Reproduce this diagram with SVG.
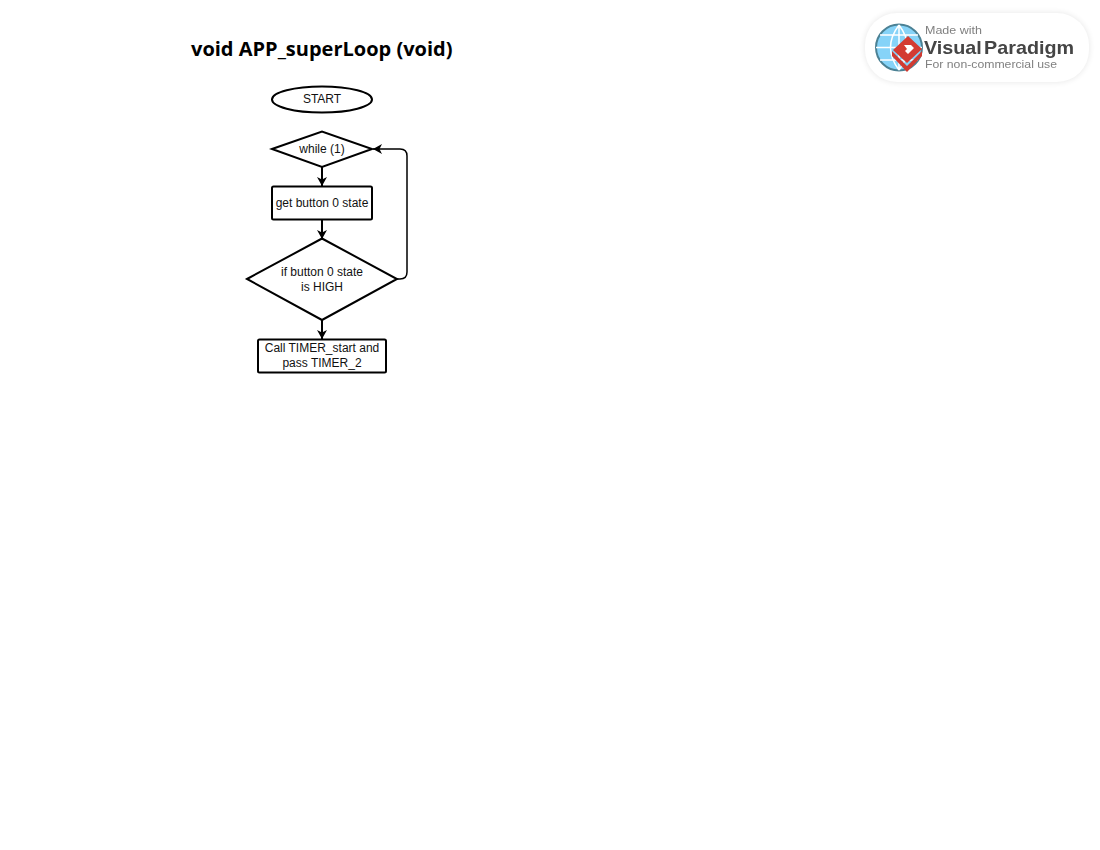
<svg xmlns="http://www.w3.org/2000/svg" width="1100" height="850" viewBox="0 0 1100 850">
<style>
.s{fill:#fff;stroke:#000;stroke-width:2}
.c{fill:none;stroke:#000;stroke-width:2}
.r{fill:none;stroke:#000;stroke-width:1.500}
.t{font-family:"Liberation Sans",Arial,sans-serif;font-size:12px;fill:#111;text-anchor:middle}
.wm{font-family:"Liberation Sans",Arial,sans-serif}
</style>
<defs>
<marker id="a" markerUnits="userSpaceOnUse" markerWidth="11" markerHeight="11" refX="9" refY="5" orient="auto"><path d="M0 0L9 5L0 10L2.500 5Z" fill="#000"/></marker>
<filter id="sh" x="-10%" y="-25%" width="120%" height="150%"><feGaussianBlur stdDeviation="3"/></filter>
<filter id="b" x="-5%" y="-5%" width="110%" height="110%"><feGaussianBlur stdDeviation=".45"/></filter>
</defs>
<rect width="1100" height="850" fill="#fff"/>
<text id="title" x="191" y="56" font-family="'Open Sans',sans-serif" font-weight="700" font-size="20" fill="#000">void APP_superLoop (void)</text>
<g id="connectors">
<path class="c" d="M322 167V186" marker-end="url(#a)"/>
<path class="c" d="M322 220V239" marker-end="url(#a)"/>
<path class="c" d="M322 320V339" marker-end="url(#a)"/>
<path class="r" d="M397 279H400Q407 279 407 272V156Q407 149 400 149H373" marker-end="url(#a)"/>
</g>
<g id="start"><ellipse class="s" cx="322" cy="99.500" rx="50" ry="13"/><text class="t" x="322" y="103">START</text></g>
<g id="while"><path class="s" d="M272 149L322 131.500L372 149L322 167Z"/><text class="t" x="322" y="153">while (1)</text></g>
<g id="get-state"><rect class="s" x="272" y="186.500" width="100" height="33" rx="1.500"/><text class="t" x="322" y="207">get button 0 state</text></g>
<g id="if-high"><path class="s" d="M247 279L322 238.500L397 279L322 320Z"/><text class="t" x="322" y="276">if button 0 state</text><text class="t" x="322" y="291">is HIGH</text></g>
<g id="call-timer"><rect class="s" x="258" y="339.500" width="128" height="33" rx="1.500"/><text class="t" x="322" y="352">Call TIMER_start and</text><text class="t" x="322" y="367">pass TIMER_2</text></g>
<g id="watermark">
<rect x="865" y="13" width="224" height="69" rx="32" fill="#000" opacity=".1" filter="url(#sh)"/>
<rect x="865" y="13" width="224" height="69" rx="32" fill="#fff" filter="url(#b)"/>
<g filter="url(#b)">
<circle cx="899" cy="47.500" r="23" fill="#86d3f8" stroke="#4c8194" stroke-width="2"/>
<path d="M876 47.500H922M899 25V70M899 25Q882 47.500 899 70M899 25Q916 47.500 899 70M880 35H918M880 60H918" fill="none" stroke="#fff" stroke-width="1.500"/>
<path d="M892 51L907 66L922 51L922 56L907 72L892 56Z" fill="#d03a32"/>
<path d="M908 36L922 49L907 63L893 50Z" fill="#d33a32"/>
<path d="M904 45L911 45L914 48L908 54L905 51L907 49Z" fill="#fff"/>
<text class="wm" x="925" y="34" font-size="11" fill="#808080" textLength="57" lengthAdjust="spacingAndGlyphs">Made with</text>
<text class="wm" x="924" y="53.500" font-size="19" font-weight="700" fill="#444" textLength="150" lengthAdjust="spacingAndGlyphs" word-spacing="-3">Visual Paradigm</text>
<text class="wm" x="925" y="68" font-size="11" fill="#808080" textLength="132" lengthAdjust="spacingAndGlyphs">For non-commercial use</text>
</g>
</g>
</svg>
